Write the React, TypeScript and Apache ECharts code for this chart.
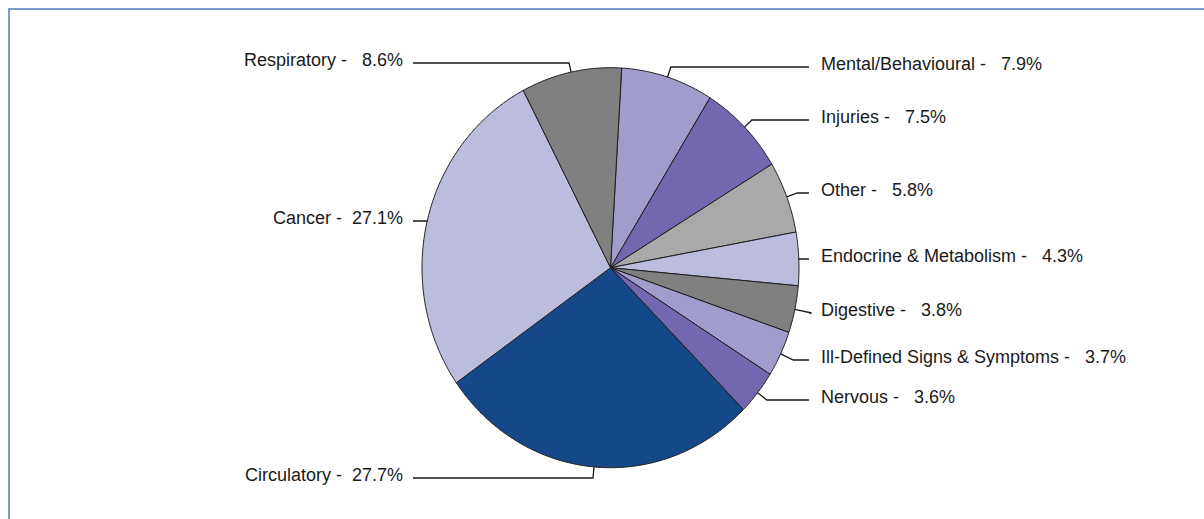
import React, { useEffect, useRef } from "react";
import * as echarts from "echarts";

const categories = [
  "Mental/Behavioural",
  "Injuries",
  "Other",
  "Endocrine & Metabolism",
  "Digestive",
  "Ill-Defined Signs & Symptoms",
  "Nervous",
  "Circulatory",
  "Cancer",
  "Respiratory",
];
const values = [7.9, 7.5, 5.8, 4.3, 3.8, 3.7, 3.6, 27.7, 27.1, 8.6];
const sliceColors = [
  "#a09ccb",
  "#7367b0",
  "#a9a9a9",
  "#bcbcde",
  "#808080",
  "#a09ccb",
  "#7367b0",
  "#154889",
  "#bcbcde",
  "#808080",
];

// layout (label line heights in px)
const labelLineY = [67, 120, 193, 259, 313, 360, 400, 478, 221, 63];

const CX = 610.5;
const CY = 267.7;
const RX = 188.5;
const RY = 200;
const START_DEG = 3.4;
const LEFT_END = 413;
const RIGHT_END = 809;

const total = values.reduce((a, b) => a + b, 0);
const starts: number[] = [];
{
  let acc = 0;
  for (const v of values) {
    starts.push(acc);
    acc += v;
  }
}

function fmt(name: string, v: number) {
  const s = v.toFixed(1);
  const pad = s.length < 4 ? " " : "";
  return `${name} -  ${pad}${s}%`;
}

export default function App() {
  const ref = useRef<HTMLDivElement>(null);
  useEffect(() => {
    if (!ref.current) return;
    const chart = echarts.init(ref.current, undefined, { renderer: "svg" });
    const rad = (d: number) => (d * Math.PI) / 180;
    chart.setOption({
      animation: false,
      series: [
        {
          type: "custom",
          coordinateSystem: "none",
          silent: true,
          data: values.map((v, i) => ({ value: [v], name: categories[i] })),
          renderItem: (params: any, api: any) => {
            const i = params.dataIndex;
            const v = api.value(0);
            const t0 = START_DEG + (starts[i] / total) * 360;
            const t1 = t0 + (v / total) * 360;
            const pts: number[][] = [[CX, CY]];
            const n = Math.max(2, Math.ceil(t1 - t0) * 2);
            for (let k = 0; k <= n; k++) {
              const a = rad(t0 + ((t1 - t0) * k) / n);
              pts.push([CX + RX * Math.sin(a), CY - RY * Math.cos(a)]);
            }
            const m = rad((t0 + t1) / 2);
            const px = CX + RX * Math.sin(m);
            const py = CY - RY * Math.cos(m);
            const dx = Math.sin(m);
            const dy = -Math.cos(m);
            const ly = labelLineY[i];
            let ex = px;
            if (Math.abs(dy) > 0.05) {
              const k = (ly - py) / dy;
              if (k > 0) ex = px + dx * k;
            }
            const right = Math.sin(m) > 0;
            const endX = right ? RIGHT_END : LEFT_END;
            return {
              type: "group",
              children: [
                {
                  type: "polygon",
                  shape: { points: pts },
                  style: { fill: sliceColors[i], stroke: "#1e1e1e", lineWidth: 1 },
                },
                {
                  type: "polyline",
                  shape: { points: [[px, py], [ex, ly], [endX, ly]] },
                  style: { fill: null, stroke: "#1a1a1a", lineWidth: 1.3 },
                },
                {
                  type: "text",
                  style: {
                    x: right ? 821 : 403,
                    y: ly - 3,
                    text: fmt(categories[i], v),
                    align: right ? "left" : "right",
                    verticalAlign: "middle",
                    fill: "#1a1a1a",
                    font: "18px 'Liberation Sans', Arial, sans-serif",
                  },
                },
              ],
            };
          },
        },
      ],
    });
    return () => chart.dispose();
  }, []);
  return (
    <div style={{ position: "fixed", left: 0, top: 0, width: 1204, height: 519, overflow: "hidden", background: "#fff" }}>
      <div
        style={{
          position: "absolute",
          left: 8,
          top: 8,
          width: 1400,
          height: 800,
          border: "2px solid #7b9cc7",
          boxSizing: "border-box",
        }}
      />
      <div ref={ref} style={{ position: "absolute", left: 0, top: 0, width: 1204, height: 519 }} />
    </div>
  );
}
